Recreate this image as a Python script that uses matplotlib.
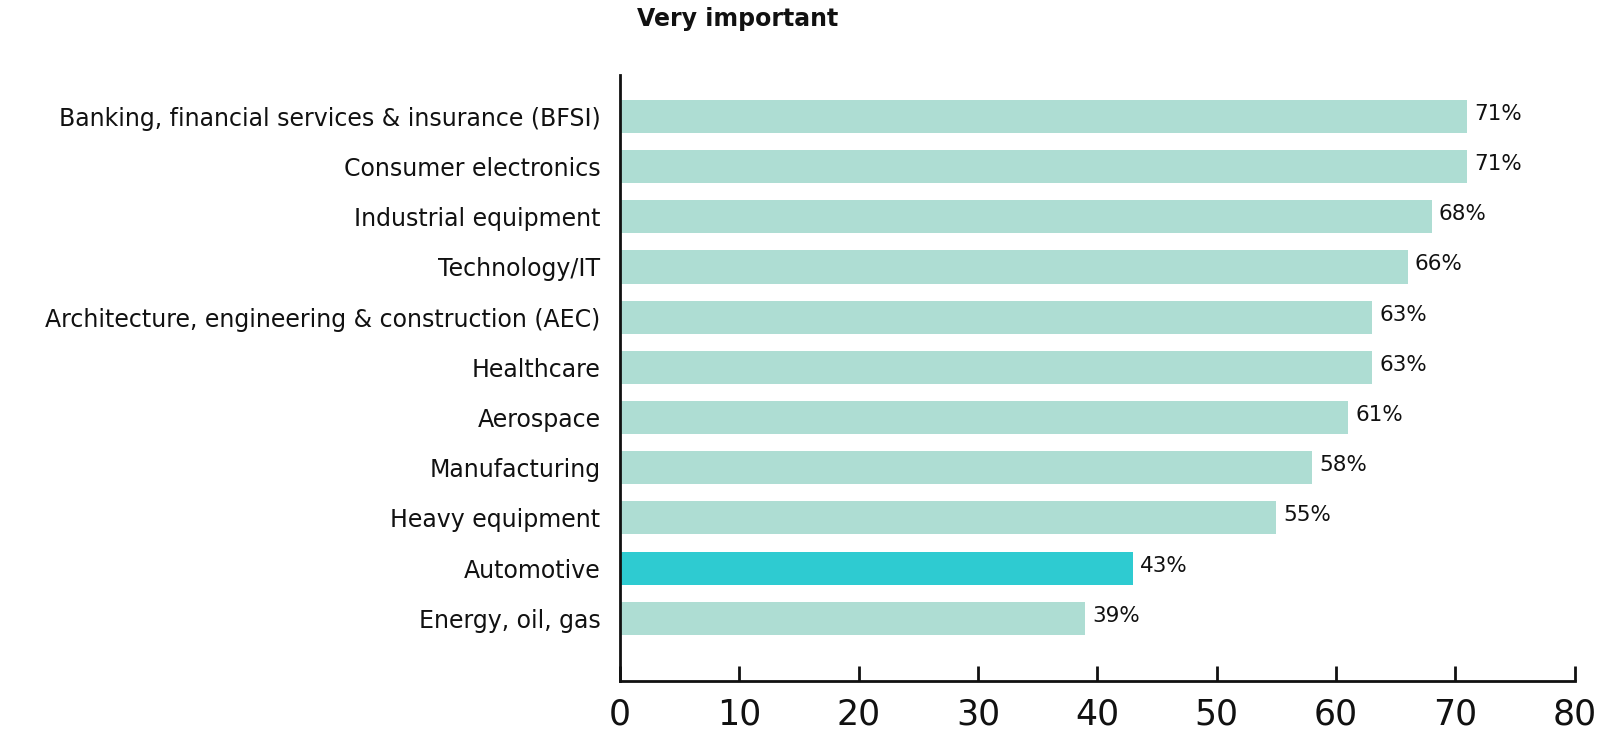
import matplotlib.pyplot as plt

plt.rcParams['font.family'] = ['DejaVu Sans']

industries = [
    "Banking, financial services & insurance (BFSI)",
    "Consumer electronics",
    "Industrial equipment",
    "Technology/IT",
    "Architecture, engineering & construction (AEC)",
    "Healthcare",
    "Aerospace",
    "Manufacturing",
    "Heavy equipment",
    "Automotive",
    "Energy, oil, gas",
]
very_important = [71, 71, 68, 66, 63, 63, 61, 58, 55, 43, 39]
highlight = "Automotive"

light = "#aeddd3"
accent = "#2ecbd1"

fig = plt.figure(figsize=(16.21, 7.31), dpi=100)
ax = fig.add_axes([0.3825, 0.0684, 0.589, 0.8286])

pos = list(range(len(industries)))
colors = [accent if name == highlight else light for name in industries]
ax.barh(pos, very_important, height=0.66, color=colors)

for y, v in zip(pos, very_important):
    ax.text(v + 0.6, y - 0.05, f"{v}%", va="center", ha="left", fontsize=15.5, color="#111111")

ax.set_yticks(pos)
ax.set_yticklabels(industries, fontsize=17, color="#111111")
ax.set_ylim(len(industries) - 1 + 1.25, -0.82)
ax.set_xlim(0, 80)
ax.set_xticks(range(0, 81, 10))
ax.tick_params(axis="x", direction="in", length=11, width=2, labelsize=25, pad=12, colors="#111111")
ax.tick_params(axis="y", length=0, pad=14)

for s in ["top", "right"]:
    ax.spines[s].set_visible(False)
for s in ["left", "bottom"]:
    ax.spines[s].set_linewidth(2)
    ax.spines[s].set_color("#111111")

fig.text(0.455, 0.974, "Very important", ha="center", va="center", fontsize=17, fontweight="bold", color="#111111")

plt.savefig("out.png")
plt.close()
